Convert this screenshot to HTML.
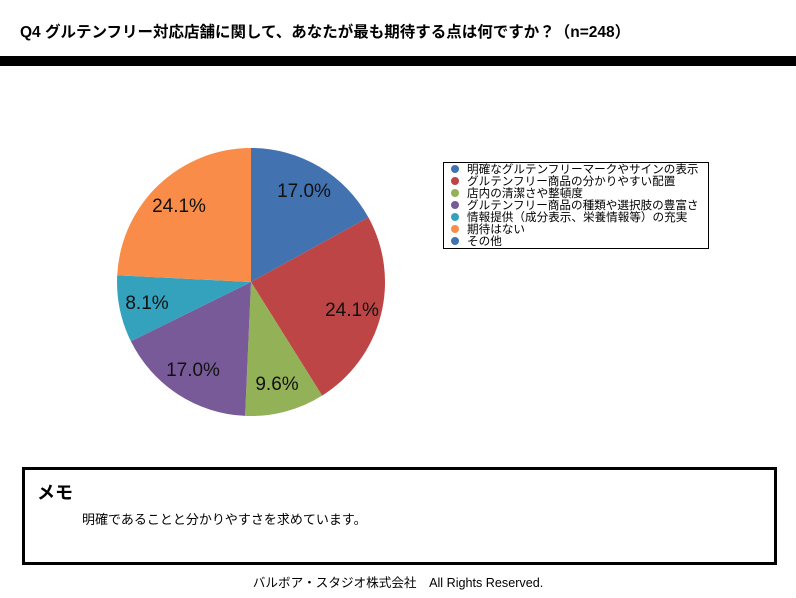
<!DOCTYPE html>
<html><head><meta charset="utf-8"><style>
body{margin:0;width:796px;height:598px;background:#fff;position:relative;overflow:hidden;font-family:"Liberation Sans","Noto Sans CJK JP",sans-serif;color:#000}
.t{position:absolute;white-space:nowrap}
</style></head><body>
<div class="t" style="left:20px;top:20px;font-size:15.5px;font-weight:bold">Q4 グルテンフリー対応店舗に関して、あなたが最も期待する点は何ですか？（n=248）</div>
<div style="position:absolute;left:0;top:56px;width:796px;height:10px;background:#000"></div>
<svg style="position:absolute;left:0;top:0" width="796" height="460">
<g stroke="none">
<path d="M251,282 L251,148 A134,134 0 0 1 368.4,217.4 Z" fill="#4372b0"/>
<path d="M251,282 L368.4,217.4 A134,134 0 0 1 322.1,395.6 Z" fill="#bd4545"/>
<path d="M251,282 L322.1,395.6 A134,134 0 0 1 245.1,415.9 Z" fill="#93b157"/>
<path d="M251,282 L245.1,415.9 A134,134 0 0 1 130.9,341.3 Z" fill="#795a99"/>
<path d="M251,282 L130.9,341.3 A134,134 0 0 1 117.2,275.3 Z" fill="#35a2bd"/>
<path d="M251,282 L117.2,275.3 A134,134 0 0 1 251,148 Z" fill="#f88c48"/>
</g>
<g font-size="19" text-anchor="middle" font-family="Liberation Sans, sans-serif" fill="#111">
<text x="304" y="197">17.0%</text>
<text x="352" y="316">24.1%</text>
<text x="277" y="390">9.6%</text>
<text x="193" y="376">17.0%</text>
<text x="147" y="309">8.1%</text>
<text x="179" y="212">24.1%</text>
</g>
<rect x="443.5" y="162.5" width="265" height="86" fill="#fff" stroke="#000" stroke-width="1"/>
<g font-size="11.6" font-family="Liberation Sans, Noto Sans CJK JP, sans-serif">
<circle cx="455" cy="169" r="4" fill="#4372b0"/><text x="467" y="173">明確なグルテンフリーマークやサインの表示</text>
<circle cx="455" cy="181" r="4" fill="#bd4545"/><text x="467" y="185">グルテンフリー商品の分かりやすい配置</text>
<circle cx="455" cy="193" r="4" fill="#93b157"/><text x="467" y="197">店内の清潔さや整頓度</text>
<circle cx="455" cy="205" r="4" fill="#795a99"/><text x="467" y="209">グルテンフリー商品の種類や選択肢の豊富さ</text>
<circle cx="455" cy="217" r="4" fill="#35a2bd"/><text x="467" y="221">情報提供（成分表示、栄養情報等）の充実</text>
<circle cx="455" cy="229" r="4" fill="#f88c48"/><text x="467" y="233">期待はない</text>
<circle cx="455" cy="241" r="4" fill="#4372b0"/><text x="467" y="245">その他</text>
</g>
</svg>
<div style="position:absolute;left:22px;top:467px;width:749px;height:92px;border:3px solid #000"></div>
<div class="t" style="left:37px;top:479px;font-size:18px;font-weight:bold">メモ</div>
<div class="t" style="left:82px;top:509px;font-size:13px">明確であることと分かりやすさを求めています。</div>
<div class="t" style="left:0;width:796px;text-align:center;top:572px;font-size:12.6px">バルボア・スタジオ株式会社　All Rights Reserved.</div>
</body></html>
